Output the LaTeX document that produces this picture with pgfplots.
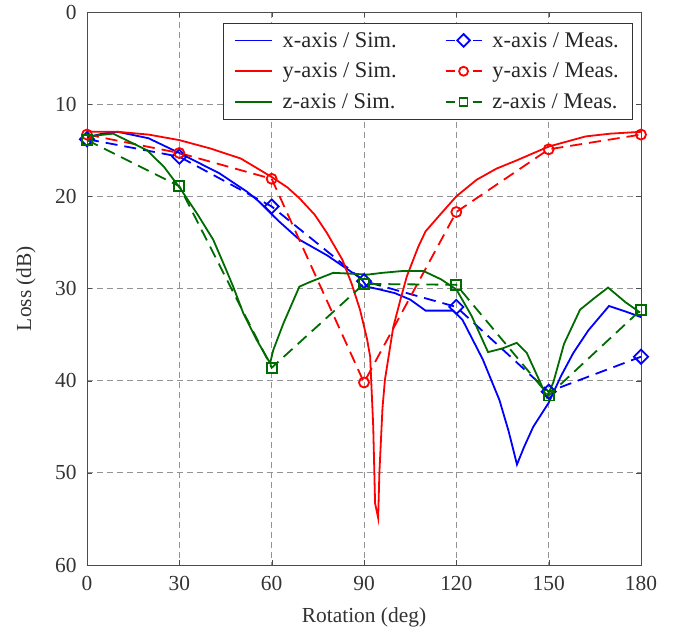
\documentclass[border=0pt]{standalone}
\usepackage{fontspec}
\setmainfont{Liberation Serif}
\usepackage{pgfplots}
\pgfplotsset{compat=1.18}

\definecolor{cx}{rgb}{0,0,1}
\definecolor{cy}{rgb}{1,0,0}
\definecolor{cz}{rgb}{0,0.42,0}

\pgfplotsset{
  sim legend/.style={legend image code/.code={
    \draw[##1, solid, line width=1.8bp] (0bp,0bp) -- (37bp,0bp);}},
  meas legend/.style={legend image code/.code={
    \draw[##1, solid, line width=1.8bp] (0bp,0bp) -- (9bp,0bp);
    \draw[##1, solid, line width=1.8bp] (27bp,0bp) -- (36bp,0bp);
    \draw[##1, solid, line width=1.8bp, mark size=#1] plot coordinates {(18bp,0bp)};}},
  meas/.style={dashed, dash pattern=on 12bp off 7bp},
}

\begin{document}
\begin{tikzpicture}
\begin{axis}[
  name=ax,
  scale only axis,
  width=554bp, height=553bp,
  xmin=0, xmax=180, ymin=0, ymax=60,
  y dir=reverse,
  xtick={0,30,...,180}, ytick={0,10,...,60},
  tick align=inside, tick pos=both,
  major tick length=5bp,
  axis line style={black!70},
  tick style={black!70},
  grid=major,
  major grid style={gray!85, dashed, dash pattern=on 6bp off 4bp, line width=0.7bp},
  /pgf/number format/assume math mode=true,
  tick label style={font=\fontsize{21.5}{24}\selectfont, text=black!80},
  label style={font=\fontsize{21.5}{24}\selectfont, text=black!80},
  xticklabel style={yshift=-8bp},
  yticklabel style={xshift=-7bp},
  xlabel={Rotation (deg)}, ylabel={Loss (dB)},
  xlabel style={at={(axis description cs:0.5,0)}, anchor=base, yshift=-58bp},
  ylabel style={at={(axis description cs:-0.101,0.5)}, anchor=base},
  legend columns=2,
  legend cell align=left,
  legend style={at={(rel axis cs:0.9838,0.98)}, anchor=north east,
    draw=black!80, font=\fontsize{22.5}{25}\selectfont, text=black!85,
    /tikz/every odd column/.append style={column sep=8bp},
    /tikz/every even column/.append style={column sep=46bp},
    row sep=10.5bp, inner xsep=11bp, inner ysep=7bp},
  every axis plot/.append style={line width=1.8bp},
]
% x-axis, simulation
\addplot[cx, solid, sim legend] coordinates {
(0,13.6)(5,13.2)(10,13.0)(20,13.7)(30,15.3)(43,17.5)(52,19.5)(56,20.6)(62,22.6)
(69,24.7)(78,26.4)(85,28.0)(89,28.9)(91,29.8)(95,30.1)(100,30.5)(105,31.2)
(110,32.4)(119,32.4)(122,33.4)(128.6,37.7)(134,42.1)(137,45.5)(139.7,49.1)
(142,47.2)(145,45)(150,42.4)(154,39.5)(158,37)(163,34.5)(169.6,31.9)(175,32.5)(180,33.1)};
\addlegendentry{x-axis / Sim.}
% x-axis, measurement (diamonds)
\addplot[cx, meas, mark=square, mark size=5bp,
  mark options={solid, rotate=45}, meas legend=4.5bp] coordinates {
(0,13.8)(30,15.7)(60,21.1)(90,29.2)(120,32.0)(150,41.2)(180,37.4)};
\addlegendentry{x-axis / Meas.}
% y-axis, simulation
\addplot[cy, solid, sim legend] coordinates {
(0,13.0)(10,13.0)(20,13.3)(30,13.9)(40,14.8)(50,15.9)(56,17.1)(60,17.9)(65,19.0)
(69,20.2)(74,22.0)(78,24.0)(83,26.9)(86,29.5)(88.7,32.3)(91,35.5)(92,37.4)(93,45)
(93.6,53.3)(94.6,54.9)(95,50)(96,43)(96.8,39.9)(99.5,34.2)(102,31)(103.9,28.7)
(107.6,25.5)(110,23.8)(114.7,22.0)(120,20.0)(126.6,18.2)(133,17.0)(139.6,16.1)
(150,14.6)(162,13.5)(170,13.2)(180,13.0)};
\addlegendentry{y-axis / Sim.}
% y-axis, measurement
\addplot[cy, meas, mark=o, mark size=5bp, mark options={solid},
  meas legend=4.5bp] coordinates {
(0,13.3)(30,15.3)(60,18.1)(90,40.2)(120,21.7)(150,14.9)(180,13.3)};
\addlegendentry{y-axis / Meas.}
% z-axis, simulation
\addplot[cz, solid, sim legend] coordinates {
(0,13.5)(8.5,13.2)(19.5,15.0)(25,16.8)(30.2,19.1)(36,22)(41,24.7)(45,27.8)
(47.5,29.8)(50.8,32.7)(55,35.5)(59.5,38.1)(60.5,36.7)(63.8,33.8)(69,29.8)
(72.4,29.3)(80,28.3)(86.5,28.4)(91,28.5)(96,28.3)(102.6,28.1)(109.3,28.1)
(115,29.0)(120,30.1)(125,33)(130.3,36.9)(135,36.5)(139.6,35.9)(142.9,37.0)
(147,40)(149.4,41.8)(151.5,40.2)(155,36)(160.2,32.3)(165,31)(169.3,29.9)
(175,31.5)(179.7,32.6)};
\addlegendentry{z-axis / Sim.}
% z-axis, measurement
\addplot[cz, meas, mark=square, mark size=5bp, mark options={solid},
  meas legend=4bp] coordinates {
(0,13.9)(30,18.9)(60,38.6)(90,29.5)(120,29.6)(150,41.6)(180,32.3)};
\addlegendentry{z-axis / Meas.}
\end{axis}
% surrounding margin of the figure
\path (ax.south west) ++(-87bp,-66bp);
\path (ax.north east) ++(43bp,12bp);
\end{tikzpicture}
\end{document}
